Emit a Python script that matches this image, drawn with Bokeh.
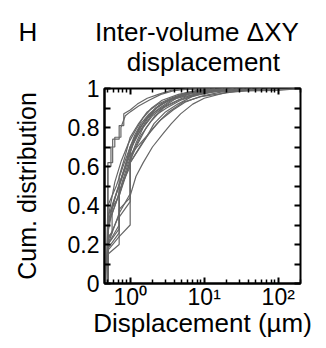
from bokeh.plotting import figure
from bokeh.models import (LogAxis, LinearAxis, FixedTicker, Title, Range1d)
from bokeh.embed import file_html
from bokeh.resources import INLINE

# ---- data: displacement (µm) vs cumulative fraction, one list per volume pair ----
disp = [
    [0.5, 0.5, 0.55, 0.55, 0.62, 0.62, 0.75, 0.75, 0.86, 1.0, 1.3, 1.8, 2.6, 4, 8, 20],
    [0.5, 0.5, 0.58, 0.58, 0.71, 0.71, 0.82, 0.82, 1.0, 1.25, 1.7, 2.4, 3.5, 6, 12],
    [0.5, 0.5, 0.71, 0.71, 0.85, 1.0, 1.3, 1.7, 2.4, 3.5, 6, 12, 30],
    [0.5, 0.5, 0.65, 0.78, 0.95, 1.2, 1.5, 2.0, 3.0, 5.0, 9, 20],
    [0.5, 0.5, 0.71, 0.71, 1.0, 1.1, 1.4, 1.9, 2.8, 4.5, 8, 18, 40],
    [0.5, 0.5, 0.71, 0.71, 1.0, 1.0, 1.2, 1.5, 2.0, 2.8, 3.6, 4.8, 7, 10, 20, 60],
    [0.5, 0.55, 0.71, 0.85, 1.0, 1.25, 1.6, 2.2, 3.2, 5.5, 10, 25],
    [0.5, 0.71, 0.71, 0.8, 1.0, 1.0, 1.3, 1.7, 2.3, 3.3, 5, 9, 18],
    [0.47, 0.5, 0.65, 0.8, 1.0, 1.15, 1.4, 1.8, 2.6, 4, 7, 15, 35],
    [0.5, 0.5, 0.71, 0.71, 0.92, 1.1, 1.35, 1.8, 2.4, 3.8, 6.5, 14],
    [0.5, 0.5, 0.71, 1.0, 1.0, 1.45, 1.9, 2.6, 3.8, 5.5, 9, 16, 45],
    [0.5, 0.54, 0.67, 0.82, 1.0, 1.2, 1.55, 2.0, 2.9, 4.2, 7.5, 14, 28],
    [0.5, 0.5, 0.71, 0.71, 1.0, 1.0, 1.7, 2.3, 3.3, 5.2, 9.5, 22, 80],
    [0.5, 0.5, 0.62, 0.76, 0.95, 1.2, 1.5, 1.95, 2.7, 4.5, 8, 200],
    [0.5, 0.57, 0.57, 0.7, 0.86, 1.05, 1.35, 1.75, 2.5, 3.6, 6.2, 12, 25],
    [0.5, 0.5, 0.71, 0.71, 1.0, 1.0, 1.6, 2.1, 3.0, 4.4, 7, 13, 100, 200],
    [0.5, 0.55, 0.68, 0.84, 1.02, 1.28, 1.65, 2.15, 3.1, 4.8, 8.5, 18, 60],
]
cdf = [
    [0, 0.6, 0.6, 0.7, 0.7, 0.75, 0.75, 0.8, 0.86, 0.88, 0.91, 0.94, 0.97, 0.99, 1, 1],
    [0, 0.62, 0.62, 0.74, 0.74, 0.81, 0.81, 0.87, 0.89, 0.92, 0.95, 0.97, 0.99, 1, 1],
    [0, 0.35, 0.45, 0.55, 0.65, 0.75, 0.82, 0.88, 0.92, 0.95, 0.98, 0.99, 1],
    [0, 0.3, 0.42, 0.52, 0.62, 0.72, 0.8, 0.86, 0.91, 0.95, 0.98, 1],
    [0, 0.2, 0.3, 0.45, 0.62, 0.68, 0.76, 0.83, 0.9, 0.94, 0.97, 0.99, 1],
    [0, 0.15, 0.2, 0.24, 0.3, 0.45, 0.55, 0.62, 0.7, 0.77, 0.82, 0.87, 0.92, 0.95, 0.98, 1],
    [0.3, 0.38, 0.5, 0.6, 0.7, 0.77, 0.84, 0.9, 0.94, 0.97, 0.99, 1],
    [0.2, 0.28, 0.45, 0.52, 0.6, 0.7, 0.79, 0.85, 0.9, 0.94, 0.97, 0.99, 1],
    [0.0, 0.4, 0.5, 0.6, 0.7, 0.76, 0.82, 0.87, 0.92, 0.95, 0.98, 0.99, 1],
    [0, 0.22, 0.35, 0.5, 0.62, 0.72, 0.8, 0.86, 0.91, 0.95, 0.98, 1],
    [0, 0.2, 0.36, 0.46, 0.62, 0.72, 0.78, 0.84, 0.89, 0.93, 0.96, 0.98, 1],
    [0.28, 0.35, 0.48, 0.58, 0.68, 0.75, 0.81, 0.87, 0.91, 0.95, 0.97, 0.99, 1],
    [0, 0.18, 0.26, 0.38, 0.44, 0.66, 0.76, 0.82, 0.88, 0.93, 0.96, 0.98, 1],
    [0, 0.33, 0.52, 0.63, 0.72, 0.79, 0.85, 0.9, 0.94, 0.97, 0.99, 1],
    [0.24, 0.26, 0.4, 0.5, 0.6, 0.7, 0.78, 0.85, 0.9, 0.94, 0.97, 0.99, 1],
    [0, 0.17, 0.24, 0.34, 0.42, 0.62, 0.74, 0.82, 0.88, 0.92, 0.96, 0.985, 0.99, 1],
    [0.26, 0.34, 0.44, 0.54, 0.64, 0.72, 0.8, 0.86, 0.9, 0.94, 0.97, 0.99, 1],
]

panel_letter = "H"
title_line1 = "Inter-volume \u0394XY"
title_line2 = "displacement"
x_label = "Displacement (µm)"
y_label = "Cum. distribution"

x_ticks = [1, 10, 100]
x_tick_labels = {1: "10\u2070", 10: "10\u00b9", 100: "10\u00b2"}
x_minor = [0.5, 0.6, 0.7, 0.8, 0.9, 2, 3, 4, 5, 6, 7, 8, 9,
           20, 30, 40, 50, 60, 70, 80, 90, 200]
y_ticks = [0, 0.2, 0.4, 0.6, 0.8, 1]
y_tick_labels = {0: "0", 0.2: "0.2", 0.4: "0.4", 0.6: "0.6", 0.8: "0.8", 1: "1"}
y_minor = [0.1, 0.3, 0.5, 0.7, 0.9]

FONT = "Liberation Sans"
LINE = "#666666"
NBSP = "\u00a0"

p = figure(width=318, height=340, x_axis_type="log", output_backend="svg",
           toolbar_location=None, x_range=Range1d(0.45, 200), y_range=Range1d(0, 1))
p.min_border_left = 104
p.min_border_right = 18
p.min_border_top = 88
p.min_border_bottom = 52
p.background_fill_color = "white"
p.border_fill_color = "white"
p.grid.visible = False
p.outline_line_color = "black"
p.outline_line_width = 2

for xs, ys in zip(disp, cdf):
    p.line(xs, ys, line_color=LINE, line_width=1.2)

def style(ax, labels=True):
    ax.axis_line_color = "black"
    ax.axis_line_width = 2
    ax.major_tick_in = 6
    ax.major_tick_out = 0
    ax.minor_tick_in = 4
    ax.minor_tick_out = 0
    ax.major_tick_line_width = 2
    ax.minor_tick_line_width = 1.5
    ax.major_tick_line_color = "black"
    ax.minor_tick_line_color = "black"
    ax.major_label_text_font = FONT
    ax.major_label_text_color = "black"
    ax.axis_label_text_font = FONT
    ax.axis_label_text_font_style = "normal"
    ax.axis_label_text_color = "black"
    if not labels:
        ax.major_label_standoff = 0
        ax.axis_line_color = None

xa = p.xaxis[0]
xa.ticker = FixedTicker(ticks=x_ticks, minor_ticks=x_minor)
xa.major_label_overrides = x_tick_labels
style(xa)
xa.major_label_text_font_size = "23px"
xa.axis_label = x_label
xa.axis_label_text_font_size = "26px"
xa.axis_label_standoff = -5
xa.major_label_standoff = 0

ya = p.yaxis[0]
ya.ticker = FixedTicker(ticks=y_ticks, minor_ticks=y_minor)
ya.major_label_overrides = y_tick_labels
style(ya)
ya.minor_tick_in = 6
ya.minor_tick_line_width = 2
ya.major_label_text_font_size = "23px"
ya.axis_label = y_label
ya.axis_label_text_font_size = "25px"
ya.axis_label_standoff = 24
ya.major_label_standoff = 5

top = LogAxis(ticker=FixedTicker(ticks=x_ticks, minor_ticks=x_minor))
style(top, labels=False)
top.major_label_overrides = {1: "", 10: "", 100: ""}
p.add_layout(top, "above")
right = LinearAxis(ticker=FixedTicker(ticks=y_ticks, minor_ticks=y_minor))
style(right, labels=False)
right.major_label_overrides = {0: "", 0.2: "", 0.4: "", 0.6: "", 0.8: "", 1: ""}
right.minor_tick_in = 6
right.minor_tick_line_width = 2
p.add_layout(right, "right")

# panel letter + two-line title in one left-anchored block starting at the canvas' left side
title_text = (panel_letter + NBSP * 8 + title_line1 + "\n" + NBSP * 15 + title_line2)
p.add_layout(Title(text=title_text, align="left", offset=-86, text_font=FONT,
                   text_font_size="26px", text_font_style="normal", text_color="black",
                   text_line_height=1.0, standoff=24), "above")

open("out.html", "w").write(file_html(p, INLINE))
